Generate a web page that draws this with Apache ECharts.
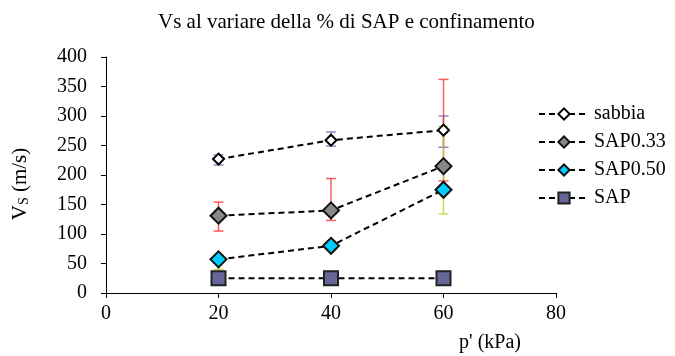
<!DOCTYPE html>
<html>
<head>
<meta charset="utf-8">
<script src="https://cdn.jsdelivr.net/npm/echarts@6/dist/echarts.min.js"></script>
<style>
html,body{margin:0;padding:0;background:#fff;}
#main{width:675px;height:356px;}
</style>
</head>
<body>
<div id="main"></div>
<script>
// dati
var pressione = [20, 40, 60];
var names = ['sabbia', 'SAP0.33', 'SAP0.50', 'SAP'];

var sabbia = [227, 259, 276];
var sabbiaMin = [217, 249, 247];
var sabbiaMax = [234, 273, 300];

var sap033 = [131, 140, 215];
var sap033Min = [105, 123, 190];
var sap033Max = [154, 194, 362];

var sap050 = [57, 80, 175];
var sap050Min = [40, 73, 134];
var sap050Max = [62, 88, 283];

var sap = [25, 25, 25];

var font = 'Liberation Serif, Times New Roman, serif';

function pairs(ys) {
    var out = [];
    for (var i = 0; i < pressione.length; i++) out.push([pressione[i], ys[i]]);
    return out;
}

function errData(lo, hi) {
    var out = [];
    for (var i = 0; i < pressione.length; i++) out.push([pressione[i], lo[i], hi[i]]);
    return out;
}

function errSeries(lo, hi, color) {
    return {
        type: 'custom',
        z: 1,
        silent: true,
        data: errData(lo, hi),
        renderItem: function (params, api) {
            var top = api.coord([api.value(0), api.value(2)]);
            var bot = api.coord([api.value(0), api.value(1)]);
            var w = 5;
            var st = {stroke: color, lineWidth: 1.5};
            return {
                type: 'group',
                children: [
                    {type: 'line', shape: {x1: top[0], y1: top[1], x2: bot[0], y2: bot[1]}, style: st},
                    {type: 'line', shape: {x1: top[0] - w, y1: top[1], x2: top[0] + w, y2: top[1]}, style: st},
                    {type: 'line', shape: {x1: bot[0] - w, y1: bot[1], x2: bot[0] + w, y2: bot[1]}, style: st}
                ]
            };
        }
    };
}

function lineSeries(name, ys, symbol, size, fill, border) {
    return {
        name: name,
        type: 'line',
        z: 3,
        data: pairs(ys),
        symbol: symbol,
        symbolSize: size,
        lineStyle: {color: '#000', width: 2, type: [6, 4]},
        itemStyle: {color: fill, borderColor: border, borderWidth: 2, opacity: 1}
    };
}

var myChart = echarts.init(document.getElementById('main'));

var option = {
    animation: false,
    title: {
        text: 'Vs al variare della % di SAP e confinamento',
        left: 153,
        top: 7,
        textStyle: {fontFamily: font, fontSize: 21, fontWeight: 'normal', color: '#000'}
    },
    legend: {
        orient: 'vertical',
        left: 533,
        top: 99,
        itemWidth: 50,
        itemHeight: 14,
        itemGap: 8,
        data: names,
        textStyle: {fontFamily: font, fontSize: 20, color: '#000'}
    },
    grid: {left: 106, right: 119, top: 57, bottom: 63, outerBoundsMode: 'none', containLabel: false},
    xAxis: {
        type: 'value',
        min: 0,
        max: 80,
        interval: 20,
        name: "p' (kPa)",
        nameLocation: 'end',
        nameGap: -66,
        nameTextStyle: {fontFamily: font, fontSize: 20, color: '#000', align: 'center', verticalAlign: 'top', padding: [40, 0, 0, 0]},
        splitLine: {show: false},
        axisLine: {lineStyle: {color: '#000', width: 1}},
        axisTick: {inside: false, length: 5, lineStyle: {color: '#000'}},
        axisLabel: {fontFamily: font, fontSize: 20, color: '#000', margin: 11}
    },
    yAxis: {
        type: 'value',
        min: 0,
        max: 400,
        interval: 50,
        name: '{a|V}{b|S}{a| (m/s)}',
        nameLocation: 'middle',
        nameGap: 75,
        nameRotate: 90,
        nameTextStyle: {
            padding: [0, 18, 0, 0],
            rich: {
                a: {fontFamily: font, fontSize: 21, color: '#000'},
                b: {fontFamily: font, fontSize: 14, color: '#000', verticalAlign: 'bottom', padding: [8, 0, 0, 0]}
            }
        },
        splitLine: {show: false},
        axisLine: {show: true, lineStyle: {color: '#000', width: 1}},
        axisTick: {show: true, length: 5, lineStyle: {color: '#000'}},
        axisLabel: {fontFamily: font, fontSize: 20, color: '#000', margin: 19}
    },
    series: [
        errSeries(sabbiaMin, sabbiaMax, 'rgba(110,110,180,0.8)'),
        errSeries(sap033Min, sap033Max, 'rgba(255,40,40,0.75)'),
        errSeries(sap050Min, sap050Max, 'rgba(180,215,60,0.8)'),
        lineSeries('sabbia', sabbia, 'diamond', 11, '#fff', '#000'),
        lineSeries('SAP0.33', sap033, 'diamond', 16, '#888888', '#111'),
        lineSeries('SAP0.50', sap050, 'diamond', 16, '#00ccff', '#111'),
        lineSeries('SAP', sap, 'rect', 14, '#666699', '#222')
    ]
};

myChart.setOption(option);
</script>
</body>
</html>
